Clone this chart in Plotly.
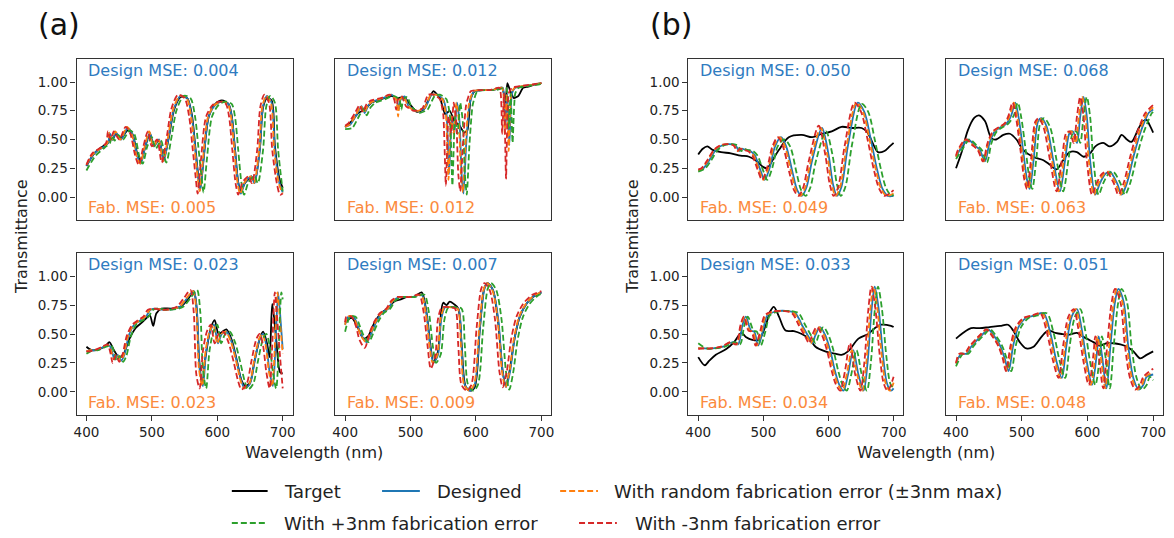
import plotly.graph_objects as go

# ---------------- data ----------------
# Panel a1
A1_TGT_X = [400, 412, 425, 433, 436, 440, 445, 453, 463, 470, 478, 483, 490, 497, 503, 511, 518, 526, 534, 544, 554, 561, 566, 571, 574, 579, 587, 597, 607, 617, 622, 627, 632, 636, 642, 647, 652, 657, 665, 670, 676, 683, 688, 695, 700]
A1_TGT_Y = [0.27, 0.38, 0.44, 0.47, 0.52, 0.50, 0.55, 0.51, 0.58, 0.55, 0.37, 0.31, 0.44, 0.55, 0.45, 0.49, 0.33, 0.52, 0.76, 0.87, 0.86, 0.72, 0.46, 0.18, 0.08, 0.33, 0.70, 0.81, 0.84, 0.81, 0.71, 0.42, 0.13, 0.05, 0.12, 0.15, 0.18, 0.13, 0.42, 0.78, 0.86, 0.84, 0.45, 0.16, 0.08]
A1_DES_X = [400, 412, 425, 433, 436, 440, 445, 453, 463, 470, 478, 483, 490, 497, 503, 511, 518, 526, 534, 544, 554, 561, 566, 571, 574, 579, 587, 597, 607, 617, 622, 627, 632, 636, 642, 647, 652, 657, 665, 670, 676, 683, 688, 695, 700]
A1_DES_Y = [0.27, 0.38, 0.43, 0.47, 0.55, 0.50, 0.56, 0.50, 0.60, 0.55, 0.35, 0.29, 0.44, 0.56, 0.44, 0.50, 0.31, 0.53, 0.77, 0.88, 0.86, 0.70, 0.44, 0.17, 0.06, 0.32, 0.70, 0.80, 0.83, 0.81, 0.70, 0.41, 0.12, 0.03, 0.12, 0.16, 0.18, 0.12, 0.41, 0.79, 0.88, 0.82, 0.41, 0.12, 0.04]
A1_RND_X = [400, 411, 424, 432, 435, 439, 444, 452, 462, 469, 477, 482, 489, 496, 502, 510, 517, 525, 533, 543, 553, 560, 565, 570, 573, 578, 586, 596, 606, 616, 621, 626, 631, 635, 641, 646, 651, 656, 664, 669, 675, 682, 687, 694, 700]
A1_RND_Y = [0.28, 0.38, 0.43, 0.47, 0.56, 0.50, 0.57, 0.50, 0.61, 0.55, 0.35, 0.29, 0.44, 0.57, 0.44, 0.50, 0.31, 0.53, 0.77, 0.88, 0.86, 0.70, 0.44, 0.17, 0.05, 0.32, 0.70, 0.80, 0.83, 0.81, 0.70, 0.41, 0.12, 0.03, 0.12, 0.16, 0.18, 0.12, 0.41, 0.79, 0.88, 0.82, 0.41, 0.12, 0.03]
A1_P3_X = [400, 414, 428, 436, 439, 443, 448, 456, 466, 473, 481, 486, 493, 500, 506, 514, 522, 530, 538, 549, 559, 566, 571, 576, 579, 584, 592, 602, 612, 622, 627, 632, 637, 641, 647, 652, 657, 662, 670, 675, 681, 688, 693, 700]
A1_P3_Y = [0.23, 0.36, 0.43, 0.47, 0.53, 0.49, 0.54, 0.50, 0.58, 0.55, 0.35, 0.29, 0.44, 0.52, 0.42, 0.49, 0.30, 0.52, 0.76, 0.88, 0.86, 0.70, 0.44, 0.17, 0.04, 0.32, 0.70, 0.80, 0.83, 0.81, 0.70, 0.41, 0.12, 0.02, 0.12, 0.16, 0.18, 0.12, 0.41, 0.79, 0.88, 0.82, 0.41, 0.05]
A1_M3_X = [400, 409, 422, 430, 433, 437, 442, 450, 460, 467, 475, 480, 487, 494, 500, 508, 515, 523, 530, 540, 550, 557, 562, 567, 570, 575, 583, 593, 603, 613, 618, 623, 628, 632, 638, 643, 648, 653, 661, 666, 672, 679, 684, 691, 696, 700]
A1_M3_Y = [0.28, 0.38, 0.43, 0.47, 0.57, 0.50, 0.57, 0.50, 0.61, 0.55, 0.35, 0.28, 0.44, 0.57, 0.44, 0.50, 0.30, 0.53, 0.77, 0.89, 0.86, 0.70, 0.44, 0.17, 0.03, 0.32, 0.70, 0.80, 0.83, 0.81, 0.70, 0.41, 0.12, 0.02, 0.12, 0.16, 0.18, 0.12, 0.41, 0.79, 0.89, 0.82, 0.41, 0.12, 0.02, 0.03]

# Panel a2
A2_TGT_X = [400, 410, 420, 430, 440, 455, 470, 480, 490, 500, 510, 520, 528, 535, 545, 553, 560, 567, 575, 582, 587, 592, 598, 610, 625, 640, 645, 648, 652, 658, 665, 672, 680, 690, 700]
A2_TGT_Y = [0.61, 0.66, 0.73, 0.76, 0.82, 0.85, 0.88, 0.86, 0.87, 0.80, 0.74, 0.76, 0.85, 0.92, 0.86, 0.72, 0.75, 0.66, 0.62, 0.56, 0.58, 0.86, 0.92, 0.93, 0.93, 0.95, 0.82, 0.99, 0.93, 0.86, 0.88, 0.95, 0.96, 0.98, 0.99]
A2_DES_X = [400, 408, 418, 425, 430, 436, 443, 458, 471, 479, 482, 485, 491, 497, 509, 522, 532, 540, 550, 555, 559, 563, 567, 571, 575, 578, 581, 585, 590, 597, 611, 626, 641, 645, 648, 651, 655, 660, 668, 680, 692, 700]
A2_DES_Y = [0.61, 0.63, 0.72, 0.79, 0.73, 0.80, 0.83, 0.86, 0.89, 0.85, 0.76, 0.85, 0.875, 0.79, 0.745, 0.77, 0.89, 0.89, 0.85, 0.72, 0.20, 0.70, 0.55, 0.82, 0.65, 0.20, 0.03, 0.45, 0.80, 0.92, 0.93, 0.93, 0.95, 0.60, 0.90, 0.45, 0.90, 0.95, 0.96, 0.97, 0.98, 0.99]
A2_RND_X = [400, 407, 417, 424, 429, 435, 442, 457, 470, 478, 481, 484, 490, 496, 508, 521, 531, 539, 549, 554, 558, 562, 566, 570, 574, 577, 580, 584, 589, 596, 610, 625, 640, 644, 647, 650, 654, 659, 667, 679, 691, 700]
A2_RND_Y = [0.61, 0.63, 0.72, 0.79, 0.73, 0.80, 0.83, 0.86, 0.89, 0.85, 0.70, 0.85, 0.875, 0.79, 0.745, 0.77, 0.89, 0.89, 0.85, 0.72, 0.15, 0.70, 0.55, 0.82, 0.65, 0.20, 0.04, 0.45, 0.80, 0.92, 0.93, 0.93, 0.95, 0.55, 0.90, 0.40, 0.90, 0.95, 0.96, 0.97, 0.98, 0.99]
A2_P3_X = [400, 411, 421, 428, 433, 439, 446, 461, 474, 483, 486, 489, 495, 501, 513, 526, 537, 545, 555, 560, 564, 568, 572, 576, 580, 583, 586, 590, 595, 602, 616, 631, 646, 650, 653, 656, 660, 665, 673, 685, 697, 700]
A2_P3_Y = [0.59, 0.60, 0.70, 0.77, 0.71, 0.78, 0.82, 0.85, 0.88, 0.85, 0.76, 0.85, 0.87, 0.79, 0.73, 0.76, 0.88, 0.89, 0.85, 0.72, 0.10, 0.70, 0.55, 0.82, 0.65, 0.20, 0.02, 0.45, 0.80, 0.92, 0.93, 0.93, 0.95, 0.60, 0.90, 0.47, 0.90, 0.95, 0.96, 0.97, 0.98, 0.99]
A2_M3_X = [400, 405, 415, 422, 427, 433, 440, 455, 468, 475, 478, 481, 487, 493, 505, 518, 527, 535, 545, 550, 554, 558, 562, 566, 570, 573, 576, 580, 585, 592, 606, 621, 636, 640, 643, 646, 650, 655, 663, 675, 687, 700]
A2_M3_Y = [0.62, 0.64, 0.73, 0.80, 0.74, 0.81, 0.84, 0.86, 0.89, 0.85, 0.76, 0.85, 0.875, 0.79, 0.75, 0.77, 0.89, 0.89, 0.85, 0.72, 0.10, 0.70, 0.55, 0.82, 0.65, 0.20, 0.05, 0.45, 0.80, 0.92, 0.93, 0.93, 0.95, 0.55, 0.90, 0.16, 0.90, 0.95, 0.96, 0.97, 0.98, 0.99]

# Panel a3
A3_TGT_X = [400, 408, 420, 430, 435, 443, 450, 457, 465, 475, 485, 492, 497, 502, 507, 515, 530, 545, 555, 564, 568, 572, 577, 582, 590, 596, 602, 608, 614, 622, 630, 637, 643, 650, 657, 665, 670, 676, 680, 684, 690, 696, 700]
A3_TGT_Y = [0.39, 0.36, 0.37, 0.40, 0.43, 0.35, 0.30, 0.33, 0.45, 0.55, 0.60, 0.64, 0.66, 0.57, 0.68, 0.72, 0.72, 0.74, 0.80, 0.87, 0.75, 0.30, 0.07, 0.30, 0.55, 0.62, 0.50, 0.52, 0.54, 0.45, 0.27, 0.10, 0.05, 0.08, 0.27, 0.46, 0.52, 0.42, 0.30, 0.76, 0.46, 0.17, 0.16]
A3_DES_X = [400, 407, 415, 427, 435, 440, 443, 448, 453, 458, 465, 473, 483, 491, 498, 508, 516, 526, 536, 544, 554, 564, 569, 573, 578, 583, 589, 595, 601, 607, 614, 622, 630, 637, 642, 650, 657, 665, 670, 675, 680, 685, 689, 693, 697, 700]
A3_DES_Y = [0.35, 0.36, 0.36, 0.39, 0.40, 0.33, 0.28, 0.32, 0.27, 0.32, 0.49, 0.58, 0.62, 0.65, 0.71, 0.72, 0.71, 0.71, 0.72, 0.74, 0.81, 0.87, 0.69, 0.20, 0.05, 0.35, 0.52, 0.58, 0.42, 0.50, 0.52, 0.43, 0.26, 0.09, 0.03, 0.07, 0.26, 0.46, 0.50, 0.40, 0.17, 0.05, 0.40, 0.86, 0.60, 0.37]
A3_RND_X = [400, 406, 414, 426, 434, 439, 442, 447, 452, 457, 464, 472, 482, 490, 497, 507, 515, 525, 535, 543, 553, 563, 568, 572, 577, 582, 588, 594, 600, 606, 613, 621, 629, 636, 641, 649, 656, 664, 669, 674, 679, 684, 688, 692, 696, 700]
A3_RND_Y = [0.35, 0.36, 0.36, 0.39, 0.40, 0.33, 0.28, 0.32, 0.27, 0.32, 0.49, 0.58, 0.62, 0.65, 0.71, 0.72, 0.71, 0.71, 0.72, 0.74, 0.81, 0.87, 0.69, 0.20, 0.05, 0.35, 0.52, 0.58, 0.42, 0.50, 0.52, 0.43, 0.26, 0.09, 0.03, 0.07, 0.26, 0.46, 0.50, 0.40, 0.17, 0.05, 0.40, 0.86, 0.60, 0.33]
A3_P3_X = [400, 410, 418, 430, 438, 443, 446, 451, 456, 461, 468, 476, 487, 495, 502, 512, 520, 530, 541, 549, 559, 569, 574, 578, 583, 588, 594, 600, 606, 612, 619, 627, 635, 642, 647, 655, 662, 670, 675, 680, 685, 690, 694, 698, 700]
A3_P3_Y = [0.33, 0.36, 0.36, 0.39, 0.40, 0.33, 0.27, 0.31, 0.26, 0.31, 0.48, 0.58, 0.62, 0.65, 0.71, 0.72, 0.71, 0.71, 0.72, 0.74, 0.81, 0.88, 0.69, 0.20, 0.03, 0.35, 0.52, 0.58, 0.42, 0.50, 0.52, 0.43, 0.26, 0.09, 0.02, 0.07, 0.26, 0.46, 0.50, 0.40, 0.17, 0.03, 0.40, 0.86, 0.80]
A3_M3_X = [400, 404, 412, 424, 432, 437, 440, 445, 450, 455, 462, 470, 479, 487, 494, 504, 512, 522, 531, 539, 549, 559, 564, 568, 573, 578, 584, 590, 596, 602, 609, 617, 625, 632, 637, 645, 652, 660, 665, 670, 675, 680, 684, 688, 692, 696, 700]
A3_M3_Y = [0.35, 0.35, 0.36, 0.39, 0.41, 0.33, 0.25, 0.32, 0.26, 0.32, 0.49, 0.58, 0.62, 0.65, 0.71, 0.72, 0.71, 0.71, 0.72, 0.74, 0.81, 0.88, 0.69, 0.15, 0.03, 0.35, 0.52, 0.58, 0.42, 0.50, 0.52, 0.43, 0.26, 0.09, 0.02, 0.07, 0.26, 0.46, 0.50, 0.40, 0.17, 0.03, 0.40, 0.86, 0.60, 0.30, 0.03]

# Panel a4
A4_TGT_X = [400, 410, 420, 428, 435, 445, 455, 465, 475, 485, 495, 505, 517, 524, 530, 535, 542, 547, 550, 555, 560, 566, 573, 578, 584, 591, 598, 606, 613, 618, 626, 634, 641, 646, 652, 659, 667, 677, 687, 700]
A4_TGT_Y = [0.60, 0.64, 0.55, 0.46, 0.48, 0.60, 0.68, 0.72, 0.78, 0.80, 0.82, 0.82, 0.86, 0.70, 0.42, 0.26, 0.35, 0.70, 0.77, 0.75, 0.78, 0.76, 0.72, 0.42, 0.05, 0.01, 0.04, 0.55, 0.90, 0.94, 0.88, 0.60, 0.17, 0.05, 0.20, 0.46, 0.65, 0.76, 0.82, 0.86]
A4_DES_X = [400, 405, 413, 420, 425, 433, 441, 448, 456, 466, 474, 484, 494, 504, 517, 524, 530, 535, 542, 547, 553, 565, 573, 578, 583, 591, 598, 606, 613, 618, 626, 634, 641, 646, 652, 659, 667, 677, 687, 692, 700]
A4_DES_Y = [0.58, 0.65, 0.65, 0.56, 0.49, 0.43, 0.52, 0.61, 0.68, 0.72, 0.79, 0.82, 0.82, 0.82, 0.84, 0.69, 0.40, 0.25, 0.32, 0.63, 0.73, 0.73, 0.72, 0.40, 0.06, 0.01, 0.06, 0.55, 0.89, 0.94, 0.88, 0.63, 0.17, 0.04, 0.17, 0.46, 0.65, 0.76, 0.82, 0.84, 0.86]
A4_RND_X = [400, 404, 412, 419, 424, 432, 440, 447, 455, 465, 473, 483, 493, 503, 516, 523, 529, 534, 541, 546, 552, 564, 572, 577, 582, 590, 597, 605, 612, 617, 625, 633, 640, 645, 651, 658, 666, 676, 686, 691, 700]
A4_RND_Y = [0.58, 0.65, 0.65, 0.56, 0.49, 0.43, 0.52, 0.61, 0.68, 0.72, 0.79, 0.82, 0.82, 0.82, 0.84, 0.69, 0.40, 0.25, 0.32, 0.63, 0.73, 0.73, 0.72, 0.40, 0.06, 0.01, 0.06, 0.55, 0.89, 0.94, 0.88, 0.63, 0.17, 0.04, 0.17, 0.46, 0.65, 0.76, 0.82, 0.84, 0.86]
A4_P3_X = [400, 408, 416, 423, 428, 436, 444, 451, 459, 469, 477, 488, 498, 508, 521, 528, 534, 539, 546, 552, 558, 570, 578, 583, 588, 596, 603, 611, 618, 623, 631, 639, 646, 651, 657, 664, 672, 682, 692, 697, 700]
A4_P3_Y = [0.52, 0.65, 0.65, 0.56, 0.49, 0.43, 0.52, 0.61, 0.68, 0.72, 0.79, 0.82, 0.82, 0.82, 0.84, 0.69, 0.40, 0.25, 0.32, 0.63, 0.73, 0.73, 0.72, 0.40, 0.06, 0.01, 0.06, 0.55, 0.89, 0.94, 0.88, 0.63, 0.17, 0.02, 0.17, 0.46, 0.65, 0.76, 0.82, 0.84, 0.85]
A4_M3_X = [400, 402, 410, 417, 422, 430, 438, 445, 453, 463, 471, 480, 490, 500, 513, 520, 526, 531, 538, 542, 548, 560, 568, 573, 578, 586, 593, 601, 608, 613, 621, 629, 636, 641, 647, 654, 662, 672, 682, 687, 700]
A4_M3_Y = [0.60, 0.65, 0.65, 0.56, 0.45, 0.38, 0.52, 0.61, 0.68, 0.72, 0.79, 0.82, 0.82, 0.82, 0.84, 0.69, 0.40, 0.20, 0.32, 0.63, 0.73, 0.73, 0.72, 0.40, 0.06, 0.01, 0.06, 0.55, 0.89, 0.94, 0.88, 0.63, 0.17, 0.04, 0.17, 0.46, 0.65, 0.76, 0.82, 0.84, 0.87]

# Panel b1
B1_TGT_X = [400, 407, 414, 422, 435, 450, 465, 478, 490, 500, 506, 512, 524, 539, 559, 575, 590, 605, 620, 636, 651, 660, 667, 676, 686, 694, 700]
B1_TGT_Y = [0.37, 0.42, 0.44, 0.41, 0.39, 0.38, 0.36, 0.35, 0.31, 0.26, 0.25, 0.30, 0.41, 0.52, 0.54, 0.52, 0.55, 0.57, 0.61, 0.60, 0.60, 0.56, 0.48, 0.39, 0.40, 0.44, 0.47]
B1_DES_X = [400, 408, 417, 427, 437, 447, 457, 463, 467, 472, 480, 487, 495, 502, 510, 518, 527, 535, 545, 552, 559, 566, 575, 590, 600, 607, 613, 620, 630, 645, 655, 665, 675, 683, 691, 700]
B1_DES_Y = [0.23, 0.25, 0.32, 0.41, 0.45, 0.46, 0.45, 0.40, 0.42, 0.41, 0.40, 0.36, 0.24, 0.15, 0.26, 0.44, 0.52, 0.44, 0.21, 0.06, 0.01, 0.08, 0.32, 0.60, 0.37, 0.11, 0.01, 0.09, 0.45, 0.82, 0.74, 0.50, 0.23, 0.07, 0.01, 0.01]
B1_RND_X = [400, 406, 415, 425, 435, 445, 455, 461, 465, 470, 478, 485, 493, 500, 508, 516, 525, 533, 543, 550, 557, 564, 573, 588, 598, 605, 611, 618, 628, 643, 653, 663, 673, 681, 689, 700]
B1_RND_Y = [0.23, 0.25, 0.32, 0.41, 0.45, 0.46, 0.45, 0.40, 0.42, 0.41, 0.40, 0.36, 0.24, 0.15, 0.26, 0.44, 0.52, 0.44, 0.21, 0.06, 0.01, 0.08, 0.32, 0.60, 0.37, 0.11, 0.01, 0.09, 0.45, 0.82, 0.74, 0.50, 0.23, 0.07, 0.01, 0.03]
B1_P3_X = [400, 411, 420, 430, 440, 450, 460, 466, 470, 475, 484, 491, 499, 506, 514, 522, 532, 541, 551, 558, 565, 572, 581, 596, 606, 613, 619, 626, 636, 651, 661, 671, 681, 689, 697, 700]
B1_P3_Y = [0.22, 0.25, 0.32, 0.41, 0.45, 0.46, 0.45, 0.40, 0.42, 0.41, 0.40, 0.36, 0.24, 0.15, 0.26, 0.44, 0.50, 0.44, 0.21, 0.06, 0.01, 0.08, 0.32, 0.57, 0.37, 0.11, 0.01, 0.09, 0.45, 0.81, 0.74, 0.50, 0.23, 0.07, 0.01, 0.02]
B1_M3_X = [400, 405, 414, 424, 434, 444, 454, 460, 464, 469, 476, 483, 491, 498, 506, 514, 522, 530, 540, 547, 554, 561, 570, 585, 595, 602, 608, 615, 625, 640, 650, 660, 670, 678, 686, 700]
B1_M3_Y = [0.24, 0.25, 0.32, 0.41, 0.45, 0.46, 0.45, 0.40, 0.42, 0.41, 0.40, 0.36, 0.24, 0.15, 0.26, 0.44, 0.52, 0.44, 0.21, 0.06, 0.01, 0.08, 0.32, 0.62, 0.37, 0.11, 0.01, 0.09, 0.45, 0.82, 0.74, 0.50, 0.23, 0.07, 0.01, 0.06]

# Panel b2
B2_TGT_X = [400, 408, 418, 428, 435, 444, 454, 461, 472, 482, 492, 502, 517, 533, 543, 553, 563, 573, 584, 594, 604, 612, 624, 634, 645, 652, 660, 667, 678, 685, 690, 695, 700]
B2_TGT_Y = [0.25, 0.38, 0.58, 0.69, 0.71, 0.66, 0.51, 0.50, 0.54, 0.55, 0.50, 0.41, 0.35, 0.32, 0.28, 0.24, 0.32, 0.39, 0.39, 0.35, 0.38, 0.44, 0.47, 0.44, 0.48, 0.54, 0.50, 0.48, 0.60, 0.66, 0.67, 0.62, 0.56]
B2_DES_X = [400, 406, 418, 428, 436, 444, 451, 459, 469, 477, 484, 490, 495, 502, 508, 512, 518, 525, 530, 538, 548, 558, 566, 573, 578, 584, 589, 594, 599, 604, 612, 619, 627, 634, 645, 652, 660, 670, 680, 688, 693, 700]
B2_DES_Y = [0.35, 0.41, 0.50, 0.45, 0.41, 0.31, 0.47, 0.57, 0.61, 0.64, 0.71, 0.82, 0.70, 0.41, 0.15, 0.07, 0.32, 0.66, 0.685, 0.61, 0.32, 0.05, 0.32, 0.56, 0.57, 0.47, 0.70, 0.87, 0.70, 0.32, 0.02, 0.12, 0.20, 0.22, 0.12, 0.02, 0.12, 0.35, 0.55, 0.67, 0.73, 0.76]
B2_RND_X = [400, 404, 416, 426, 434, 442, 449, 457, 467, 475, 482, 488, 493, 500, 506, 510, 516, 523, 528, 536, 546, 556, 564, 571, 576, 582, 587, 592, 597, 602, 610, 617, 625, 632, 643, 650, 658, 668, 678, 686, 691, 700]
B2_RND_Y = [0.35, 0.41, 0.50, 0.45, 0.41, 0.31, 0.47, 0.57, 0.61, 0.64, 0.71, 0.82, 0.70, 0.41, 0.15, 0.07, 0.32, 0.66, 0.685, 0.61, 0.32, 0.05, 0.32, 0.56, 0.57, 0.47, 0.70, 0.87, 0.70, 0.32, 0.02, 0.12, 0.20, 0.22, 0.12, 0.02, 0.12, 0.35, 0.55, 0.67, 0.73, 0.78]
B2_P3_X = [400, 409, 421, 431, 439, 447, 454, 462, 472, 480, 488, 494, 499, 506, 512, 516, 522, 529, 534, 543, 553, 563, 571, 578, 583, 589, 594, 599, 604, 609, 617, 624, 632, 639, 650, 657, 665, 675, 685, 693, 698, 700]
B2_P3_Y = [0.33, 0.41, 0.50, 0.45, 0.41, 0.30, 0.47, 0.57, 0.61, 0.64, 0.71, 0.82, 0.70, 0.41, 0.15, 0.07, 0.32, 0.66, 0.685, 0.61, 0.32, 0.05, 0.32, 0.56, 0.57, 0.47, 0.70, 0.87, 0.70, 0.32, 0.02, 0.12, 0.20, 0.22, 0.12, 0.02, 0.12, 0.35, 0.55, 0.67, 0.73, 0.74]
B2_M3_X = [400, 403, 415, 425, 433, 441, 448, 456, 466, 474, 480, 486, 491, 498, 504, 508, 514, 521, 526, 533, 543, 553, 561, 568, 573, 579, 584, 589, 594, 599, 607, 614, 622, 629, 640, 647, 655, 665, 675, 683, 688, 700]
B2_M3_Y = [0.36, 0.41, 0.50, 0.45, 0.41, 0.31, 0.47, 0.57, 0.61, 0.64, 0.71, 0.82, 0.70, 0.41, 0.15, 0.07, 0.32, 0.66, 0.685, 0.61, 0.32, 0.05, 0.32, 0.56, 0.57, 0.47, 0.70, 0.87, 0.70, 0.32, 0.02, 0.12, 0.20, 0.22, 0.12, 0.02, 0.12, 0.35, 0.55, 0.67, 0.73, 0.80]

# Panel b3
B3_TGT_X = [400, 410, 417, 427, 443, 455, 466, 473, 483, 493, 504, 510, 516, 524, 534, 547, 559, 570, 580, 595, 610, 620, 630, 646, 661, 671, 681, 696, 700]
B3_TGT_Y = [0.30, 0.23, 0.27, 0.32, 0.37, 0.43, 0.51, 0.475, 0.45, 0.45, 0.58, 0.69, 0.735, 0.65, 0.53, 0.525, 0.50, 0.46, 0.39, 0.35, 0.33, 0.32, 0.35, 0.46, 0.50, 0.55, 0.58, 0.57, 0.56]
B3_DES_X = [400, 410, 422, 438, 453, 461, 468, 473, 481, 486, 492, 499, 506, 516, 534, 549, 559, 570, 575, 580, 587, 595, 603, 610, 616, 623, 630, 638, 646, 654, 660, 666, 671, 677, 684, 690, 696, 700]
B3_DES_Y = [0.38, 0.375, 0.375, 0.39, 0.43, 0.41, 0.58, 0.65, 0.53, 0.52, 0.40, 0.52, 0.66, 0.69, 0.70, 0.68, 0.58, 0.47, 0.42, 0.49, 0.56, 0.49, 0.35, 0.18, 0.07, 0.01, 0.15, 0.36, 0.15, 0.01, 0.25, 0.70, 0.91, 0.72, 0.30, 0.07, 0.01, 0.03]
B3_RND_X = [400, 408, 420, 436, 451, 459, 466, 471, 479, 484, 490, 497, 504, 514, 532, 547, 557, 568, 573, 578, 585, 593, 601, 608, 614, 621, 628, 636, 644, 652, 658, 664, 669, 675, 682, 688, 694, 700]
B3_RND_Y = [0.38, 0.375, 0.375, 0.39, 0.43, 0.41, 0.58, 0.65, 0.53, 0.52, 0.40, 0.52, 0.66, 0.69, 0.70, 0.68, 0.58, 0.47, 0.42, 0.49, 0.56, 0.49, 0.35, 0.18, 0.07, 0.01, 0.15, 0.36, 0.15, 0.01, 0.25, 0.70, 0.91, 0.72, 0.30, 0.07, 0.01, 0.08]
B3_P3_X = [400, 413, 425, 441, 456, 464, 471, 476, 485, 490, 496, 503, 510, 520, 539, 554, 564, 575, 580, 585, 592, 600, 608, 615, 621, 628, 635, 643, 651, 659, 665, 671, 676, 682, 689, 695, 700]
B3_P3_Y = [0.42, 0.375, 0.375, 0.39, 0.43, 0.41, 0.58, 0.65, 0.53, 0.52, 0.40, 0.52, 0.66, 0.69, 0.70, 0.68, 0.58, 0.47, 0.42, 0.49, 0.56, 0.49, 0.35, 0.18, 0.07, 0.01, 0.15, 0.36, 0.15, 0.01, 0.25, 0.70, 0.91, 0.72, 0.30, 0.07, 0.03]
B3_M3_X = [400, 407, 419, 435, 450, 458, 465, 470, 477, 482, 488, 495, 502, 511, 529, 544, 554, 565, 570, 575, 582, 590, 598, 605, 611, 618, 625, 633, 641, 649, 655, 661, 666, 672, 679, 685, 691, 700]
B3_M3_Y = [0.37, 0.375, 0.375, 0.39, 0.43, 0.41, 0.58, 0.65, 0.53, 0.52, 0.40, 0.52, 0.66, 0.69, 0.70, 0.68, 0.58, 0.47, 0.42, 0.49, 0.56, 0.49, 0.35, 0.18, 0.07, 0.01, 0.17, 0.42, 0.15, 0.01, 0.25, 0.70, 0.91, 0.72, 0.30, 0.07, 0.01, 0.13]

# Panel b4
B4_TGT_X = [400, 411, 423, 436, 451, 467, 479, 487, 497, 507, 518, 530, 540, 551, 561, 573, 584, 594, 609, 619, 629, 640, 650, 660, 670, 680, 690, 700]
B4_TGT_Y = [0.46, 0.51, 0.55, 0.55, 0.56, 0.57, 0.58, 0.53, 0.43, 0.375, 0.39, 0.475, 0.53, 0.51, 0.50, 0.495, 0.51, 0.475, 0.43, 0.40, 0.42, 0.42, 0.41, 0.39, 0.35, 0.29, 0.32, 0.35]
B4_DES_X = [400, 408, 416, 423, 434, 441, 449, 457, 467, 474, 480, 487, 495, 507, 520, 533, 543, 553, 561, 568, 576, 584, 591, 599, 607, 614, 617, 622, 629, 635, 642, 647, 655, 662, 670, 678, 685, 690, 700]
B4_DES_Y = [0.245, 0.33, 0.33, 0.39, 0.46, 0.50, 0.54, 0.49, 0.40, 0.29, 0.18, 0.40, 0.56, 0.64, 0.66, 0.68, 0.52, 0.26, 0.12, 0.40, 0.65, 0.715, 0.55, 0.26, 0.06, 0.32, 0.48, 0.32, 0.03, 0.40, 0.78, 0.89, 0.78, 0.40, 0.115, 0.02, 0.06, 0.13, 0.15]
B4_RND_X = [400, 406, 414, 421, 432, 439, 447, 455, 465, 472, 478, 485, 493, 505, 518, 531, 541, 551, 559, 566, 574, 582, 589, 597, 605, 612, 615, 620, 627, 633, 640, 645, 653, 660, 668, 676, 683, 688, 700]
B4_RND_Y = [0.245, 0.33, 0.33, 0.39, 0.46, 0.50, 0.54, 0.49, 0.40, 0.29, 0.18, 0.40, 0.56, 0.64, 0.66, 0.68, 0.52, 0.26, 0.12, 0.40, 0.65, 0.715, 0.55, 0.26, 0.06, 0.32, 0.48, 0.32, 0.03, 0.40, 0.78, 0.89, 0.78, 0.40, 0.115, 0.02, 0.06, 0.13, 0.17]
B4_P3_X = [400, 411, 419, 426, 437, 444, 452, 460, 470, 477, 484, 491, 499, 511, 524, 538, 548, 558, 566, 573, 581, 589, 596, 604, 612, 619, 622, 627, 634, 640, 647, 652, 660, 667, 675, 683, 690, 695, 700]
B4_P3_Y = [0.22, 0.33, 0.33, 0.39, 0.46, 0.50, 0.54, 0.49, 0.40, 0.29, 0.18, 0.40, 0.56, 0.64, 0.66, 0.68, 0.52, 0.26, 0.12, 0.40, 0.65, 0.715, 0.55, 0.26, 0.06, 0.32, 0.48, 0.32, 0.03, 0.40, 0.78, 0.89, 0.78, 0.40, 0.115, 0.02, 0.06, 0.13, 0.10]
B4_M3_X = [400, 405, 413, 420, 431, 438, 446, 454, 464, 471, 476, 483, 491, 503, 516, 528, 538, 548, 556, 563, 571, 579, 586, 594, 602, 609, 612, 617, 624, 630, 637, 642, 650, 657, 665, 673, 680, 685, 700]
B4_M3_Y = [0.25, 0.33, 0.33, 0.39, 0.46, 0.50, 0.54, 0.49, 0.40, 0.29, 0.18, 0.40, 0.56, 0.64, 0.66, 0.68, 0.52, 0.26, 0.12, 0.40, 0.65, 0.715, 0.55, 0.26, 0.06, 0.32, 0.48, 0.32, 0.03, 0.40, 0.78, 0.89, 0.78, 0.40, 0.115, 0.02, 0.06, 0.13, 0.20]

DESIGN_MSE = ["0.004", "0.012", "0.023", "0.007", "0.050", "0.068", "0.033", "0.051"]
FAB_MSE = ["0.005", "0.012", "0.023", "0.009", "0.049", "0.063", "0.034", "0.048"]
X_TICKS = [400, 500, 600, 700]
Y_TICKS = [0.0, 0.25, 0.5, 0.75, 1.0]
Y_TICK_TEXT = ["0.00", "0.25", "0.50", "0.75", "1.00"]
SERIES_NAMES = ["Target", "Designed", "With random fabrication error (\u00b13nm max)",
                "With +3nm fabrication error", "With -3nm fabrication error"]

PANELS = [
    [(A1_TGT_X, A1_TGT_Y), (A1_DES_X, A1_DES_Y), (A1_RND_X, A1_RND_Y), (A1_P3_X, A1_P3_Y), (A1_M3_X, A1_M3_Y)],
    [(A2_TGT_X, A2_TGT_Y), (A2_DES_X, A2_DES_Y), (A2_RND_X, A2_RND_Y), (A2_P3_X, A2_P3_Y), (A2_M3_X, A2_M3_Y)],
    [(A3_TGT_X, A3_TGT_Y), (A3_DES_X, A3_DES_Y), (A3_RND_X, A3_RND_Y), (A3_P3_X, A3_P3_Y), (A3_M3_X, A3_M3_Y)],
    [(A4_TGT_X, A4_TGT_Y), (A4_DES_X, A4_DES_Y), (A4_RND_X, A4_RND_Y), (A4_P3_X, A4_P3_Y), (A4_M3_X, A4_M3_Y)],
    [(B1_TGT_X, B1_TGT_Y), (B1_DES_X, B1_DES_Y), (B1_RND_X, B1_RND_Y), (B1_P3_X, B1_P3_Y), (B1_M3_X, B1_M3_Y)],
    [(B2_TGT_X, B2_TGT_Y), (B2_DES_X, B2_DES_Y), (B2_RND_X, B2_RND_Y), (B2_P3_X, B2_P3_Y), (B2_M3_X, B2_M3_Y)],
    [(B3_TGT_X, B3_TGT_Y), (B3_DES_X, B3_DES_Y), (B3_RND_X, B3_RND_Y), (B3_P3_X, B3_P3_Y), (B3_M3_X, B3_M3_Y)],
    [(B4_TGT_X, B4_TGT_Y), (B4_DES_X, B4_DES_Y), (B4_RND_X, B4_RND_Y), (B4_P3_X, B4_P3_Y), (B4_M3_X, B4_M3_Y)],
]

# ---------------- styling ----------------
W, H = 1174, 538
FONT = "DejaVu Sans"
COLORS = ["#000000", "#1f77b4", "#ff7f0e", "#2ca02c", "#d62728"]
DASHES = ["solid", "solid", "6px,3px", "6px,3px", "6px,3px"]
SMOOTH = [0.8, 0.5, 0.8, 0.8, 0.9, 0.9, 0.9, 0.9]

def px_x(p):
    return p / W

def px_y(p):
    return (H - p) / H

COL_X = [(74, 291), (334, 551), (689, 905), (948, 1166)]
ROW_Y = [(59, 220), (253, 415)]
PANEL_POS = [(0, 0), (1, 0), (0, 1), (1, 1), (2, 0), (3, 0), (2, 1), (3, 1)]

fig = go.Figure()
layout = dict(
    width=W, height=H, margin=dict(l=0, r=0, t=0, b=0),
    paper_bgcolor="white", plot_bgcolor="white", showlegend=False,
    font=dict(family=FONT, color="#222222"),
)
annotations = []
shapes = []

for i, series in enumerate(PANELS):
    n = i + 1
    xa = "x" if n == 1 else f"x{n}"
    ya = "y" if n == 1 else f"y{n}"
    for k, (xs, ys) in enumerate(series):
        fig.add_trace(go.Scatter(
            x=xs, y=ys, xaxis=xa, yaxis=ya, mode="lines",
            name=SERIES_NAMES[k],
            line=dict(color=COLORS[k], width=1.8, dash=DASHES[k],
                      shape="spline", smoothing=SMOOTH[i]),
            hoverinfo="skip",
        ))
    c, r = PANEL_POS[i]
    x0, x1 = COL_X[c]
    y0, y1 = ROW_Y[r]
    bottom = (r == 1)
    left = (c in (0, 2))
    xkey = "xaxis" if n == 1 else f"xaxis{n}"
    ykey = "yaxis" if n == 1 else f"yaxis{n}"
    layout[xkey] = dict(
        domain=[px_x(x0), px_x(x1)], anchor=ya, range=[385, 715],
        showline=True, mirror=True, linecolor="#333333", linewidth=1.3,
        showgrid=False, zeroline=False,
        tickvals=X_TICKS if bottom else [], ticks="outside" if bottom else "",
        ticklen=5, tickwidth=1, tickcolor="#333333",
        showticklabels=bottom, tickfont=dict(size=13.5, family=FONT, color="#222222"),
    )
    layout[ykey] = dict(
        domain=[px_y(y1), px_y(y0)], anchor=xa, range=[-0.2, 1.2],
        showline=True, mirror=True, linecolor="#333333", linewidth=1.3,
        showgrid=False, zeroline=False,
        tickvals=Y_TICKS if left else [], ticktext=Y_TICK_TEXT if left else [],
        ticks="outside" if left else "", ticklen=5, tickwidth=1, tickcolor="#333333",
        showticklabels=left, tickfont=dict(size=13.5, family=FONT, color="#222222"),
    )
    annotations.append(dict(
        xref=f"{xa} domain", yref=f"{ya} domain", x=0.045, y=0.93,
        xanchor="left", yanchor="middle", showarrow=False,
        text=f"Design MSE: {DESIGN_MSE[i]}",
        font=dict(family=FONT, size=16, color="#2f7bbf"),
    ))
    annotations.append(dict(
        xref=f"{xa} domain", yref=f"{ya} domain", x=0.045, y=0.075,
        xanchor="left", yanchor="middle", showarrow=False,
        text=f"Fab. MSE: {FAB_MSE[i]}",
        font=dict(family=FONT, size=16, color="#fb8a3c"),
    ))

for cx in (18, 632):
    annotations.append(dict(
        xref="paper", yref="paper", x=px_x(cx), y=px_y(237), textangle=-90,
        xanchor="center", yanchor="middle", showarrow=False, text="Transmittance",
        font=dict(family=FONT, size=16, color="#222222"),
    ))
for cx in (312.5, 927.5):
    annotations.append(dict(xref="paper", yref="paper", x=px_x(cx), y=px_y(452),
                            xanchor="center", yanchor="middle", showarrow=False,
                            text="Wavelength (nm)", font=dict(family=FONT, size=16, color="#222222")))
annotations.append(dict(xref="paper", yref="paper", x=px_x(56), y=px_y(24),
                        xanchor="center", yanchor="middle", showarrow=False,
                        text="(a)", font=dict(family=FONT, size=30, color="#111111")))
annotations.append(dict(xref="paper", yref="paper", x=px_x(671), y=px_y(24),
                        xanchor="center", yanchor="middle", showarrow=False,
                        text="(b)", font=dict(family=FONT, size=30, color="#111111")))

LEG = [
    (0, 230, 266, 280, 491),
    (1, 381, 419, 434, 491),
    (2, 560, 598, 612, 491),
    (3, 230, 266, 280, 523),
    (4, 579, 617, 633, 523),
]
for k, lx0, lx1, tx, ly in LEG:
    shapes.append(dict(type="line", xref="paper", yref="paper",
                       x0=px_x(lx0), x1=px_x(lx1), y0=px_y(ly), y1=px_y(ly),
                       line=dict(color=COLORS[k], width=1.8, dash=DASHES[k])))
    annotations.append(dict(xref="paper", yref="paper", x=px_x(tx), y=px_y(ly),
                            xanchor="left", yanchor="middle", showarrow=False,
                            text=SERIES_NAMES[k],
                            font=dict(family=FONT, size=18, color="#222222")))

layout["annotations"] = annotations
layout["shapes"] = shapes
fig.update_layout(**layout)
fig.write_html("out.html")
